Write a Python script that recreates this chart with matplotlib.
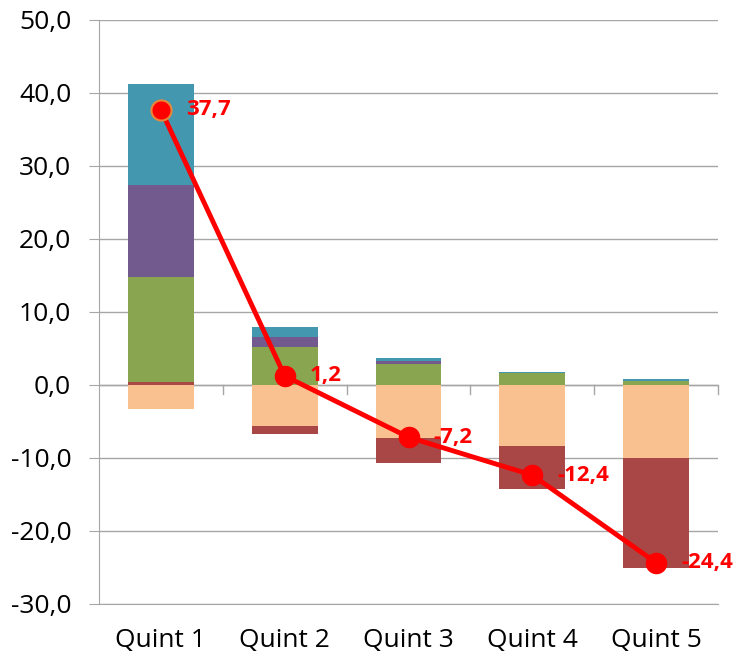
import matplotlib
matplotlib.use("Agg")
import matplotlib.pyplot as plt
import matplotlib.transforms as mtrans
import numpy as np

categories = ["Quint 1", "Quint 2", "Quint 3", "Quint 4", "Quint 5"]
peach = [-3.4, -5.7, -7.3, -8.4, -10.0]
darkred = [0.4, -1.0, -3.5, -5.9, -15.2]
green = [14.3, 5.2, 2.8, 1.6, 0.5]
purple = [12.7, 1.4, 0.4, 0.05, 0.05]
teal = [13.8, 1.3, 0.4, 0.15, 0.2]
total = [37.7, 1.2, -7.2, -12.4, -24.4]
yticks = [-30, -20, -10, 0, 10, 20, 30, 40, 50]

series = [(peach, "#F9C090"), (darkred, "#A84745"), (green, "#8AA550"),
          (purple, "#72598E"), (teal, "#4398AF")]

plt.rcParams['font.family'] = ['Open Sans', 'DejaVu Sans']
fig = plt.figure(figsize=(7.38, 6.59), dpi=100)
ax = fig.add_axes([99/738, 1-603.5/659, (718-99)/738, (603.5-20)/659])

x = np.arange(len(categories))
pos_bottom = np.zeros(len(categories))
neg_bottom = np.zeros(len(categories))
for vals, col in series:
    v = np.array(vals, dtype=float)
    bottoms = np.where(v >= 0, pos_bottom, neg_bottom)
    ax.bar(x, v, 0.53, bottom=bottoms, color=col, zorder=2, linewidth=0)
    pos_bottom = pos_bottom + np.where(v >= 0, v, 0)
    neg_bottom = neg_bottom + np.where(v < 0, v, 0)

ax.plot(x, total, color="#FF0000", lw=3.5, zorder=3)
ax.plot(x[1:], total[1:], 'o', color="#FF0000", ms=14.5, zorder=4)
ax.plot(x[:1], total[:1], 'o', color="#FF0000", ms=14.5, mec="#E8883A", mew=1.5, zorder=4)
for xi, t in zip(x, total):
    ax.annotate(f"{t:.1f}".replace(".", ","), (xi, t), xytext=(18, 0),
                textcoords="offset points", color="#FF0000", fontsize=16,
                fontweight="bold", va="center", ha="left", zorder=5,
                family=['Open Sans', 'DejaVu Sans'], annotation_clip=False)

ax.set_xlim(-0.5, len(categories) - 0.5)
ax.set_ylim(-30, 50)
ax.set_yticks(yticks)
ax.set_yticklabels([f"{t:.1f}".replace(".", ",") for t in yticks], fontsize=19)
ax.yaxis.grid(True, color="#A6A6A6", lw=1, zorder=0)
ax.set_axisbelow(True)
for s in ["top", "right"]:
    ax.spines[s].set_visible(False)
ax.spines["left"].set_color("#A6A6A6")
ax.spines["bottom"].set_color("#A6A6A6")
ax.tick_params(axis="y", length=7, color="#A6A6A6", pad=13)
ax.set_xticks([])
# x axis at zero with boundary ticks
ax.axhline(0, color="#A6A6A6", lw=1, zorder=1)
for b in np.arange(0.5, len(categories) + 0.5, 1.0):
    ax.plot([b, b], [0, -1.3], color="#A6A6A6", lw=1, zorder=1, clip_on=False)
offset = mtrans.ScaledTranslation(0, -37/100, fig.dpi_scale_trans)
for xi, c in zip(x, categories):
    ax.text(xi, -30, c, ha="center", va="center", fontsize=19,
            transform=ax.transData + offset)

fig.savefig("out.png", dpi=100)
